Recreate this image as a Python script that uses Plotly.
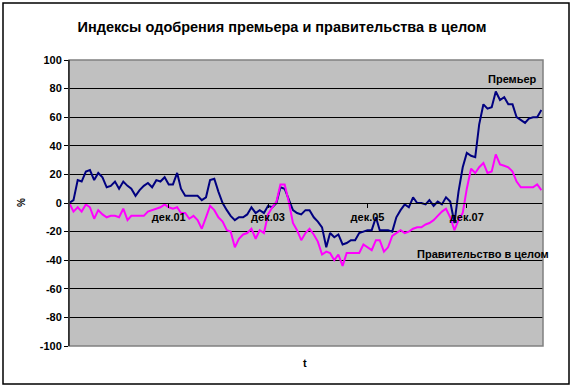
import pandas as pd
import plotly.graph_objects as go

months = pd.date_range("1999-12-01", periods=115, freq="MS")

premier = [0, 2, 16, 15, 22, 23, 16, 21, 18, 11, 12, 15, 10, 15, 12, 10, 5, 9, 12, 14,
           11, 16, 15, 18, 13, 13, 21, 10, 5, 5, 5, 5, 2, 4, 16, 17, 8, 0, -5, -9,
           -12, -10, -10, -8, -3, -7, -5, -7, -2, -3, 0, 11, 10, 2, -5, -7, -8, -5, -5, -10,
           -13, -17, -31, -21, -24, -22, -29, -28, -26, -26, -21, -20, -19, -19, -10, -19, -19, -19, -20, -10,
           -5, -1, -3, 4, 0, 0, -1, 2, -2, 1, -1, 4, 1, -14, 8, 25, 35, 33, 32, 55,
           69, 66, 67, 78, 72, 74, 69, 69, 60, 58, 56, 59, 60, 60, 65]

government = [0, -6, -3, -6, -1, -3, -11, -5, -8, -10, -9, -9, -10, -4, -12, -9, -9, -9, -9, -6,
              -5, -4, -3, -1, -3, -4, -3, -7, -7, -11, -9, -12, -18, -10, -2, -5, -10, -13, -19, -20,
              -31, -25, -22, -21, -18, -25, -19, -21, -8, -3, 1, 13, 13, 1, -14, -19, -26, -21, -18, -22,
              -27, -36, -34, -35, -40, -36, -44, -35, -35, -35, -35, -29, -31, -33, -26, -26, -34, -31, -23, -21,
              -19, -21, -20, -18, -17, -17, -15, -14, -12, -9, -6, -4, -10, -19, -12, -7, 10, 24, 21, 25,
              28, 21, 22, 34, 27, 26, 25, 22, 15, 11, 11, 11, 11, 13, 9]

tick_dates = ["2001-12-01", "2003-12-01", "2005-12-01", "2007-12-01"]
tick_labels = ["дек.01", "дек.03", "дек.05", "дек.07"]
y_ticks = list(range(-100, 101, 20))

FONT = "Liberation Sans, Arial, sans-serif"

fig = go.Figure()
fig.add_trace(go.Scatter(x=months, y=premier, mode="lines", name="Премьер",
                         line=dict(color="#000080", width=2)))
fig.add_trace(go.Scatter(x=months, y=government, mode="lines", name="Правительство в целом",
                         line=dict(color="#FF00FF", width=2)))

L, R, T, B = 69, 543, 60, 346
W, H = 574, 390
pw, ph = R - L, B - T

def px(x):
    return (x - L) / pw

def py(y):
    return (B - y) / ph

def label(text, x, y, size=11, angle=0):
    return dict(text=text, xref="paper", yref="paper", x=px(x), y=py(y),
                xanchor="center", yanchor="middle", showarrow=False, textangle=angle,
                font=dict(family=FONT, size=size, color="black"))

fig.update_layout(
    width=W, height=H,
    margin=dict(l=L, r=W - R, t=T, b=H - B),
    paper_bgcolor="white",
    plot_bgcolor="#C0C0C0",
    showlegend=False,
    font=dict(family=FONT, size=10, color="black"),
    title=dict(text="<b>Индексы одобрения премьера и правительства в целом</b>",
               x=px(282), xref="paper", xanchor="center", y=1 - 27 / H, yanchor="middle",
               font=dict(family=FONT, size=14.5, color="black")),
    xaxis=dict(
        range=[months[0] - pd.Timedelta(days=2), months[-1] + pd.Timedelta(days=12)],
        showgrid=False, zeroline=False,
        tickvals=tick_dates, ticktext=["<b>%s</b>" % t for t in tick_labels],
        ticks="outside", ticklen=4, tickcolor="black",
        showline=True, linecolor="black", linewidth=1,
        anchor="free", position=0.5,
        tickfont=dict(family=FONT, size=11, color="black"),
    ),
    yaxis=dict(
        range=[-100, 100], tickvals=y_ticks,
        ticktext=["<b>%d</b>" % v for v in y_ticks],
        showgrid=True, gridcolor="black", gridwidth=1,
        zeroline=False,
        ticks="outside", ticklen=4, tickcolor="black",
        showline=True, linecolor="black", linewidth=1,
        tickfont=dict(family=FONT, size=11, color="black"),
    ),
    shapes=[
        dict(type="rect", xref="paper", yref="paper", x0=0, x1=1, y0=0, y1=1,
             line=dict(color="#808080", width=1.5), fillcolor="rgba(0,0,0,0)", layer="above"),
        dict(type="line", xref="paper", yref="paper", x0=0, x1=0, y0=0, y1=1,
             line=dict(color="black", width=1), layer="above"),
        dict(type="rect", xref="paper", yref="paper", x0=px(3), x1=px(569), y0=py(384), y1=py(3),
             line=dict(color="black", width=1.5), fillcolor="rgba(0,0,0,0)"),
    ],
    annotations=[
        label("<b>Премьер</b>", 512, 79),
        label("<b>Правительство в целом</b>", 483, 254),
        label("<b>t</b>", 305, 363),
        label("<b>%</b>", 21, 203, size=10, angle=-90),
    ],
)

fig.write_html("out.html", config={"displayModeBar": False},
               post_script="document.body.style.margin='0';document.body.style.padding='0';")
